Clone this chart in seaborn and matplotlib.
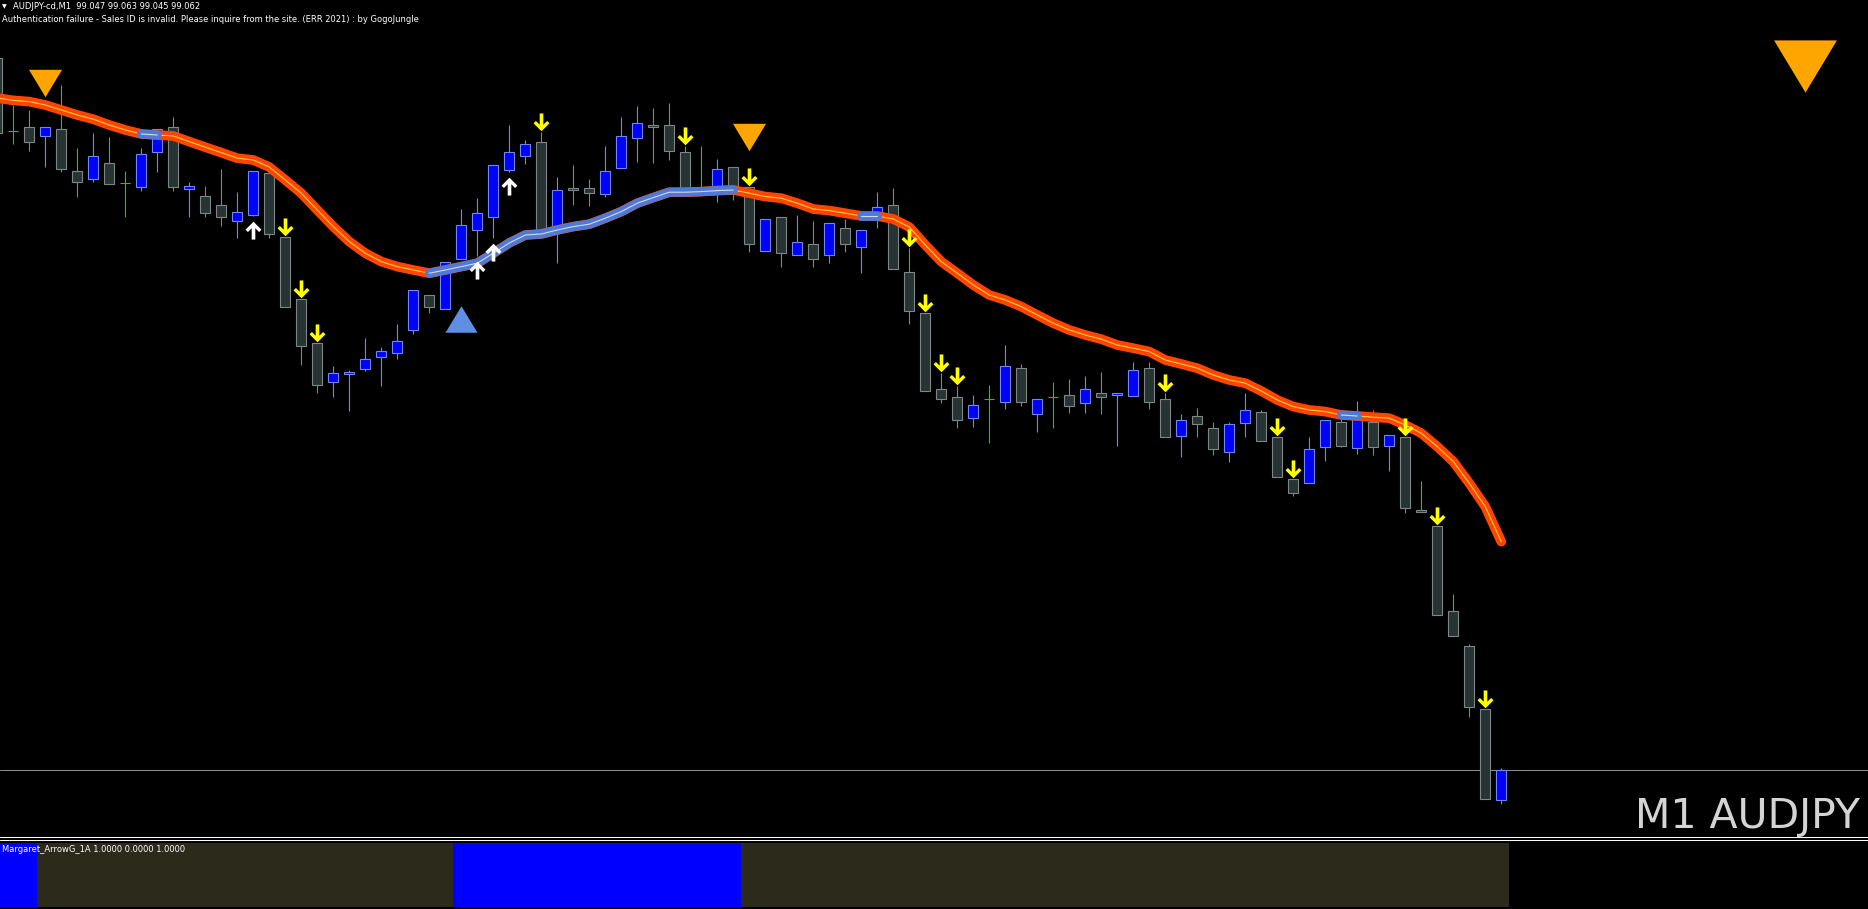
import numpy as np
import pandas as pd
import matplotlib
matplotlib.use("Agg")
import matplotlib.pyplot as plt
from matplotlib.path import Path
from matplotlib.lines import Line2D
import seaborn as sns

# AUDJPY M1 candles, bar -1 is the one cut off at the left edge
bars = list(range(-1, 94))

opens = [99.4180, 99.3815, 99.3834, 99.3789, 99.3824, 99.3614, 99.3574, 99.3654, 99.3557, 99.3537,
         99.3709, 99.3834, 99.3527, 99.3489, 99.3444, 99.3364, 99.3394, 99.3604, 99.3287, 99.2974,
         99.2754, 99.2559, 99.2599, 99.2627, 99.2684, 99.2704, 99.2819, 99.2994, 99.2924, 99.3174,
         99.3320, 99.3384, 99.3622, 99.3690, 99.3759, 99.3330, 99.3530, 99.3530, 99.3499, 99.3632,
         99.3779, 99.3845, 99.3845, 99.3710, 99.3520, 99.3520, 99.3634, 99.3537, 99.3214, 99.3384,
         99.3194, 99.3249, 99.3194, 99.3329, 99.3237, 99.3387, 99.3444, 99.3109, 99.2904, 99.2524,
         99.2484, 99.2379, 99.2474, 99.2462, 99.2629, 99.2399, 99.2484, 99.2494, 99.2454, 99.2504,
         99.2494, 99.2492, 99.2629, 99.2474, 99.2292, 99.2390, 99.2329, 99.2212, 99.2357, 99.2409,
         99.2287, 99.2074, 99.2054, 99.2234, 99.2359, 99.2232, 99.2362, 99.2242, 99.2284, 99.1920,
         99.1840, 99.1414, 99.1239, 99.0924, 99.0470]
highs = [99.4210, 99.3945, 99.3920, 99.3834, 99.4045, 99.3729, 99.3804, 99.3787, 99.3615, 99.3729,
         99.3824, 99.3887, 99.3559, 99.3540, 99.3624, 99.3509, 99.3614, 99.3604, 99.3287, 99.2974,
         99.2754, 99.2640, 99.2620, 99.2779, 99.2734, 99.2850, 99.3019, 99.2994, 99.3162, 99.3425,
         99.3482, 99.3644, 99.3847, 99.3770, 99.3812, 99.3584, 99.3645, 99.3575, 99.3740, 99.3884,
         99.3940, 99.3930, 99.3957, 99.3740, 99.3740, 99.3675, 99.3634, 99.3537, 99.3374, 99.3384,
         99.3395, 99.3365, 99.3354, 99.3374, 99.3320, 99.3509, 99.3529, 99.3229, 99.2904, 99.2604,
         99.2540, 99.2495, 99.2545, 99.2745, 99.2650, 99.2474, 99.2562, 99.2574, 99.2592, 99.2612,
         99.2504, 99.2660, 99.2660, 99.2505, 99.2399, 99.2432, 99.2359, 99.2359, 99.2507, 99.2420,
         99.2287, 99.2074, 99.2284, 99.2370, 99.2374, 99.2465, 99.2420, 99.2294, 99.2284, 99.2063,
         99.1840, 99.1500, 99.1249, 99.0924, 99.0630]
lows = [99.3780, 99.3749, 99.3717, 99.3634, 99.3612, 99.3487, 99.3559, 99.3549, 99.3384, 99.3517,
        99.3612, 99.3517, 99.3384, 99.3384, 99.3342, 99.3279, 99.3390, 99.3279, 99.2934, 99.2645,
        99.2504, 99.2484, 99.2417, 99.2617, 99.2542, 99.2674, 99.2799, 99.2904, 99.2924, 99.3174,
        99.3192, 99.3279, 99.3612, 99.3650, 99.3320, 99.3154, 99.3445, 99.3442, 99.3487, 99.3632,
        99.3662, 99.3654, 99.3670, 99.3520, 99.3500, 99.3462, 99.3470, 99.3212, 99.3214, 99.3134,
        99.3194, 99.3134, 99.3154, 99.3212, 99.3107, 99.3329, 99.3124, 99.2849, 99.2515, 99.2454,
        99.2329, 99.2337, 99.2254, 99.2425, 99.2442, 99.2312, 99.2329, 99.2407, 99.2407, 99.2399,
        99.2242, 99.2492, 99.2425, 99.2284, 99.2187, 99.2287, 99.2195, 99.2159, 99.2287, 99.2265,
        99.2084, 99.1992, 99.2054, 99.2167, 99.2234, 99.2200, 99.2195, 99.2117, 99.1907, 99.1909,
        99.1394, 99.1289, 99.0884, 99.0474, 99.0450]
closes = [99.3805, 99.3815, 99.3759, 99.3834, 99.3624, 99.3559, 99.3689, 99.3549, 99.3557, 99.3699,
          99.3824, 99.3537, 99.3540, 99.3404, 99.3384, 99.3412, 99.3614, 99.3300, 99.2934, 99.2742,
          99.2544, 99.2607, 99.2610, 99.2674, 99.2714, 99.2764, 99.3019, 99.2934, 99.3162, 99.3344,
          99.3404, 99.3644, 99.3710, 99.3750, 99.3320, 99.3520, 99.3519, 99.3507, 99.3615, 99.3790,
          99.3854, 99.3834, 99.3717, 99.3520, 99.3500, 99.3624, 99.3520, 99.3250, 99.3374, 99.3204,
          99.3259, 99.3174, 99.3354, 99.3249, 99.3320, 99.3434, 99.3124, 99.2915, 99.2515, 99.2474,
          99.2370, 99.2444, 99.2474, 99.2639, 99.2462, 99.2474, 99.2484, 99.2442, 99.2524, 99.2484,
          99.2504, 99.2619, 99.2462, 99.2284, 99.2370, 99.2349, 99.2224, 99.2349, 99.2420, 99.2265,
          99.2084, 99.2004, 99.2224, 99.2370, 99.2242, 99.2395, 99.2234, 99.2294, 99.1929, 99.1909,
          99.1394, 99.1289, 99.0934, 99.0474, 99.0620]

# moving average and its trend colour (1 = blue / rising part)
ma_vals = [99.3980, 99.3968, 99.3962, 99.3945, 99.3920, 99.3895, 99.3874, 99.3845, 99.3820, 99.3800,
           99.3795, 99.3790, 99.3762, 99.3734, 99.3707, 99.3679, 99.3670, 99.3635, 99.3570, 99.3504,
           99.3420, 99.3337, 99.3262, 99.3204, 99.3162, 99.3137, 99.3120, 99.3104, 99.3120, 99.3137,
           99.3154, 99.3204, 99.3255, 99.3295, 99.3300, 99.3320, 99.3337, 99.3349, 99.3379, 99.3412,
           99.3454, 99.3482, 99.3509, 99.3509, 99.3512, 99.3517, 99.3520, 99.3504, 99.3487, 99.3479,
           99.3454, 99.3425, 99.3417, 99.3404, 99.3390, 99.3390, 99.3375, 99.3335, 99.3245, 99.3162,
           99.3104, 99.3045, 99.2995, 99.2970, 99.2937, 99.2895, 99.2854, 99.2820, 99.2795, 99.2774,
           99.2745, 99.2729, 99.2712, 99.2670, 99.2650, 99.2629, 99.2595, 99.2570, 99.2554, 99.2515,
           99.2470, 99.2437, 99.2420, 99.2412, 99.2395, 99.2390, 99.2384, 99.2379, 99.2345, 99.2304,
           99.2237, 99.2162, 99.2054, 99.1937, 99.1762]
ma_up = [0, 0, 0, 0, 0, 0, 0, 0, 0, 1,
         1, 0, 0, 0, 0, 0, 0, 0, 0, 0,
         0, 0, 0, 0, 0, 0, 0, 1, 1, 1,
         1, 1, 1, 1, 1, 1, 1, 1, 1, 1,
         1, 1, 1, 1, 1, 1, 1, 0, 0, 0,
         0, 0, 0, 0, 1, 1, 0, 0, 0, 0,
         0, 0, 0, 0, 0, 0, 0, 0, 0, 0,
         0, 0, 0, 0, 0, 0, 0, 0, 0, 0,
         0, 0, 0, 0, 1, 1, 0, 0, 0, 0,
         0, 0, 0, 0, 0]

# Margaret_ArrowG_1A sub window state (1 = blue)
ind_state = [1, 1, 1, 0, 0, 0, 0, 0, 0, 0,
             0, 0, 0, 0, 0, 0, 0, 0, 0, 0,
             0, 0, 0, 0, 0, 0, 0, 0, 0, 1,
             1, 1, 1, 1, 1, 1, 1, 1, 1, 1,
             1, 1, 1, 1, 1, 1, 1, 0, 0, 0,
             0, 0, 0, 0, 0, 0, 0, 0, 0, 0,
             0, 0, 0, 0, 0, 0, 0, 0, 0, 0,
             0, 0, 0, 0, 0, 0, 0, 0, 0, 0,
             0, 0, 0, 0, 0, 0, 0, 0, 0, 0,
             0, 0, 0, 0, 0]

down_arrow_bars = [17, 18, 19, 33, 42, 46, 56, 57, 58, 59, 72, 79, 80, 87, 89, 92]
up_arrow_bars = [15, 29, 30, 31]
sell_tri_bars = [2, 46]
sell_tri_price = [99.4053, 99.3785]
buy_tri_bars = [28]
buy_tri_price = [99.2873]
last_sig_bar = [112]
last_sig_price = [99.4140]

# colours
BULL = "#0000ff"
BULL_EDGE = "#6a88ff"
BEAR = "#283434"
BEAR_EDGE = "#7e8686"
DOJI = "#22c322"
MA_DN = "#ff4500"
MA_UP = "#4f79d8"
TRI_SELL = "#ffa500"
TRI_BUY = "#5f8fe3"
IND_DARK = "#2b2a1b"

sns.set_style("dark", {"axes.facecolor": "black", "figure.facecolor": "black"})
plt.rcParams["font.family"] = ["DejaVu Sans"]

W, H = 1868, 909
fig = plt.figure(figsize=(W / 100, H / 100), dpi=100, facecolor="black")
ax = fig.add_axes([0, 73 / H, 1, 836 / H])
ind_ax = fig.add_axes([0, 2 / H, 1, 64 / H])

x_lo = -0.83
x_hi = x_lo + W / 16
y_top = 99.447
y_bot = y_top - 836 / 2000
ppx = (y_top - y_bot) / 836  # price per pixel

df = pd.DataFrame({"bar": bars, "open": opens, "high": highs, "low": lows, "close": closes})
up = df[df.close > df.open]
dn = df[df.close < df.open]
dj = df[df.close == df.open]
bw = 0.65

ax.vlines(dn.bar, dn.low, dn.high, color=BEAR_EDGE, lw=0.8, zorder=2)
ax.bar(dn.bar, dn.open - dn.close, bottom=dn.close, width=bw, color=BEAR,
       edgecolor=BEAR_EDGE, linewidth=0.8, zorder=2)
ax.vlines(up.bar, up.low, up.high, color=BULL_EDGE, lw=0.8, zorder=2)
ax.bar(up.bar, up.close - up.open, bottom=up.open, width=bw, color=BULL,
       edgecolor=BULL_EDGE, linewidth=0.8, zorder=2)
ax.vlines(dj.bar, dj.low, dj.high, color=DOJI, lw=0.8, zorder=2)
ax.hlines(dj.open, dj.bar - bw / 2, dj.bar + bw / 2, color=DOJI, lw=0.8, zorder=2)

# bid line
ax.axhline(closes[-1], color="#8c8c8c", lw=0.75, zorder=1)

# moving average
ma = pd.DataFrame({"bar": bars, "ma": ma_vals, "up": ma_up})
ma["run"] = (ma.up != ma.up.shift()).cumsum()
blue = ma[ma.up == 1]
sns.lineplot(data=ma, x="bar", y="ma", estimator=None, color=MA_DN, linewidth=7,
             solid_capstyle="round", ax=ax, zorder=3)
sns.lineplot(data=ma, x="bar", y="ma", estimator=None, color="#ffd040", linewidth=0.8,
             ax=ax, zorder=4)
sns.lineplot(data=blue, x="bar", y="ma", units="run", estimator=None, color=MA_UP,
             linewidth=6.5, solid_capstyle="round", ax=ax, zorder=5)
sns.lineplot(data=blue, x="bar", y="ma", units="run", estimator=None, color="#d8d8d8",
             linewidth=0.8, ax=ax, zorder=6)

# arrows
dn_verts = [(-0.2, 1.0), (0.2, 1.0), (0.2, -0.25), (0.62, 0.17), (0.88, -0.09), (0.0, -0.97),
            (-0.88, -0.09), (-0.62, 0.17), (-0.2, -0.25), (-0.2, 1.0)]
arrow_dn = Path(dn_verts, closed=True)
arrow_up = Path([(x, -y) for x, y in dn_verts], closed=True)

da = df[df.bar.isin(down_arrow_bars)]
ua = df[df.bar.isin(up_arrow_bars)]
sns.scatterplot(x=da.bar, y=da.high + 10 * ppx, marker=arrow_dn, s=170, color="#ffff00",
                linewidth=0, ax=ax, zorder=7)
sns.scatterplot(x=ua.bar, y=ua.low - 14 * ppx, marker=arrow_up, s=170, color="white",
                linewidth=0, ax=ax, zorder=7)

# signal triangles
tri_dn = Path([(-1, 0.83), (1, 0.83), (0, -0.83), (-1, 0.83)], closed=True)
tri_up = Path([(-1, -0.83), (1, -0.83), (0, 0.83), (-1, -0.83)], closed=True)
sns.scatterplot(x=sell_tri_bars, y=sell_tri_price, marker=tri_dn, s=565, color=TRI_SELL,
                linewidth=0, ax=ax, zorder=7)
sns.scatterplot(x=buy_tri_bars, y=buy_tri_price, marker=tri_up, s=530, color=TRI_BUY,
                linewidth=0, ax=ax, zorder=7)
sns.scatterplot(x=last_sig_bar, y=last_sig_price, marker=tri_dn, s=2050, color=TRI_SELL,
                linewidth=0, ax=ax, zorder=7)

ax.set_xlim(x_lo, x_hi)
ax.set_ylim(y_bot, y_top)
ax.axis("off")

# sub window
ind_colors = [BULL if s == 1 else IND_DARK for s in ind_state]
ind_ax.bar(bars, [1] * len(bars), width=1.0, color=ind_colors, linewidth=0)
ind_ax.set_xlim(x_lo, x_hi)
ind_ax.set_ylim(0, 1)
ind_ax.axis("off")

# window separators
for yp in (836.5, 840.0):
    fig.add_artist(Line2D([0, 1], [1 - yp / H, 1 - yp / H], transform=fig.transFigure,
                          color="white", lw=0.75))

# texts
ohlc = f"{opens[-1]:.3f} {highs[-1]:.3f} {lows[-1]:.3f} {closes[-1]:.3f}"
fig.text(2 / W, 1 - 8.5 / H, "\u25bc", color="white", fontsize=4.5, va="baseline")
fig.text(13 / W, 1 - 9.3 / H, "AUDJPY-cd,M1  " + ohlc, color="white", fontsize=6,
         va="baseline")
fig.text(2 / W, 1 - 22 / H,
         "Authentication failure - Sales ID is invalid. Please inquire from the site. "
         "(ERR 2021) : by GogoJungle", color="white", fontsize=6.0, va="baseline")
fig.text(1860 / W, 1 - 828 / H, "M1 AUDJPY", color="#d4d4d4", fontsize=29.5,
         ha="right", va="baseline")
fig.text(1.5 / W, 1 - 851.5 / H, "Margaret_ArrowG_1A 1.0000 0.0000 1.0000", color="white",
         fontsize=6, va="baseline")

fig.savefig("out.png", dpi=100, facecolor="black")
